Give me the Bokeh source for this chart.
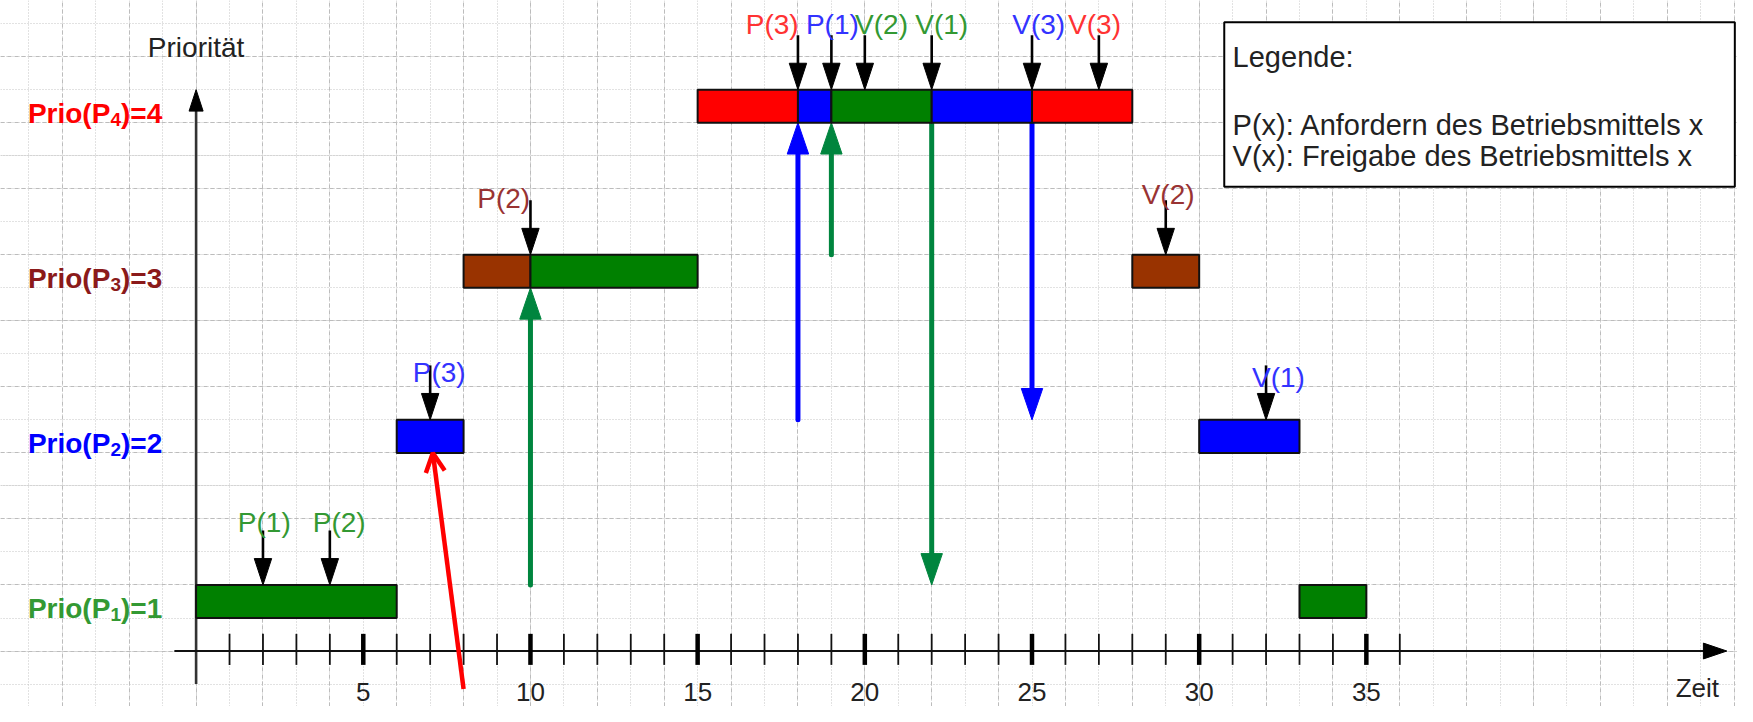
import numpy as np
from bokeh.plotting import figure
from bokeh.models import Range1d, Grid, SingleIntervalTicker, Arrow, OpenHead
from bokeh.core.properties import value
from bokeh.embed import file_html
from bokeh.resources import INLINE

# ---------------- data ----------------
prio_levels = [1, 2, 3, 4]
prio_label_colors = ["#339933", "#0000ff", "#8b1a1a", "#ff0000"]

bar_prio = [1, 1, 2, 2, 3, 3, 3, 4, 4, 4, 4, 4]
bar_start = [0, 33, 6, 30, 8, 10, 28, 15, 18, 19, 22, 25]
bar_end = [6, 35, 8, 33, 10, 15, 30, 18, 19, 22, 25, 28]
bar_colors = ["#008000", "#008000", "#0000ff", "#0000ff", "#993300", "#008000",
              "#993300", "#ff0000", "#0000ff", "#008000", "#0000ff", "#ff0000"]

event_time = [2, 4, 7, 10, 18, 19, 20, 22, 25, 27, 29, 32]
event_prio = [1, 1, 2, 3, 4, 4, 4, 4, 4, 4, 3, 2]
event_text = ["P(1)", "P(2)", "P(3)", "P(2)", "P(3)", "P(1)", "V(2)", "V(1)",
              "V(3)", "V(3)", "V(2)", "V(1)"]
event_color = ["#339933", "#339933", "#3333ff", "#993333", "#ff3333", "#3333ff",
               "#339933", "#339933", "#3333ff", "#ff3333", "#993333", "#3333ff"]

transfer_time = [10, 18, 19, 22, 25]
transfer_from = [1, 2, 3, 4, 4]
transfer_to = [3, 4, 4, 1, 2]
transfer_color = ["#00853e", "#0000ff", "#00853e", "#00853e", "#0000ff"]

preempt_x = [8.0, 7.08]
preempt_y = [-1.15, 6.0]

time_ticks = list(range(1, 37))
major_ticks = [5, 10, 15, 20, 25, 30, 35]
major_labels = ["5", "10", "15", "20", "25", "30", "35"]

legend_lines = ["Legende:", "P(x): Anfordern des Betriebsmittels x",
                "V(x): Freigabe des Betriebsmittels x"]

# ---------------- layout (positions / styles) ----------------
FONT = value("Liberation Sans")
event_label_dx = [0.04, 0.28, 0.27, -0.8, -0.77, 0.03, 0.5, 0.3, 0.2, -0.13, 0.07, 0.37]
event_label_dy = [1.89, 1.89, 1.44, 1.71, 1.96, 1.96, 1.96, 1.96, 1.96, 1.96, 1.81, 1.29]


def bar_bottom(k):
    return 5 * k - 4


W, H = 1737, 706
p = figure(width=W, height=H, x_range=Range1d(-5.85, 46.1), y_range=Range1d(-1.68, 19.70),
           output_backend="svg", toolbar_location=None, min_border=0,
           x_axis_location=None, y_axis_location=None)
p.outline_line_color = None
p.background_fill_color = "white"
p.border_fill_color = "white"

for dim in (0, 1):
    g = Grid(dimension=dim, ticker=SingleIntervalTicker(interval=2, num_minor_ticks=2),
             grid_line_color="#bcbcbc", grid_line_dash="4 3", grid_line_width=1,
             minor_grid_line_color="#c4c4c4", minor_grid_line_dash="1 2",
             minor_grid_line_width=1)
    p.add_layout(g)

# ---- axes ----
p.segment(x0=[0], y0=[-1.0], x1=[0], y1=[16.4], line_color="#333333", line_width=2.6)
p.patch(x=[-0.21, 0.21, 0.0], y=[16.35, 16.35, 17.0], fill_color="black", line_color="black")
p.segment(x0=[-0.65], y0=[0], x1=[45.1], y1=[0], line_color="#111111", line_width=2)
p.patch(x=[45.08, 45.08, 45.78], y=[-0.24, 0.24, 0.0], fill_color="black", line_color="black")

minor = [t for t in time_ticks if t not in major_ticks]
p.segment(x0=minor, y0=[-0.42] * len(minor), x1=minor, y1=[0.52] * len(minor),
          line_color="#111111", line_width=1.8)
p.segment(x0=major_ticks, y0=[-0.42] * len(major_ticks), x1=major_ticks,
          y1=[0.52] * len(major_ticks), line_color="black", line_width=4.5)
p.text(x=major_ticks, y=[-1.25] * len(major_ticks), text=major_labels, text_font=FONT,
       text_font_size="26px", text_color="#222222", text_align="center",
       text_baseline="alphabetic")
p.text(x=[44.9], y=[-1.12], text=["Zeit"], text_font=FONT, text_font_size="26px",
       text_color="#222222", text_align="center", text_baseline="alphabetic")
p.text(x=[0.0], y=[18.29], text=["Priorität"], text_font=FONT, text_font_size="28px",
       text_color="#222222", text_align="center", text_baseline="alphabetic")

# ---- transfer arrows (coloured) ----
HL, HW = 0.95, 0.32
for t, f, to, c in zip(transfer_time, transfer_from, transfer_to, transfer_color):
    if to > f:
        y0 = bar_bottom(f) + 1
        tip = bar_bottom(to)
        base = tip - HL
    else:
        y0 = bar_bottom(f)
        tip = bar_bottom(to) + 1
        base = tip + HL
    p.line(x=[t, t], y=[y0, base], line_color=c, line_width=5, line_cap="round")
    p.patch(x=[t - HW, t + HW, t], y=[base, base, tip], fill_color=c, line_color=c)

# ---- bars ----
p.quad(left=bar_start, right=bar_end,
       bottom=[bar_bottom(k) for k in bar_prio],
       top=[bar_bottom(k) + 1 for k in bar_prio],
       fill_color=bar_colors, line_color="#111111", line_width=2)

# ---- event arrows (black) ----
BL, BHL, BHW = 1.65, 0.8, 0.26
for t, k in zip(event_time, event_prio):
    top = bar_bottom(k) + 1
    p.line(x=[t, t], y=[top + BL, top + BHL - 0.05], line_color="black", line_width=2.6)
    p.patch(x=[t - BHW, t + BHW, t], y=[top + BHL, top + BHL, top],
            fill_color="black", line_color="black")

p.text(x=[t + dx for t, dx in zip(event_time, event_label_dx)],
       y=[bar_bottom(k) + 1 + dy for k, dy in zip(event_prio, event_label_dy)],
       text=event_text, text_color=event_color, text_font=FONT, text_font_size="28px",
       text_align="center", text_baseline="alphabetic")

# ---- preemption arrow (red) ----
p.add_layout(Arrow(x_start=preempt_x[0], y_start=preempt_y[0], x_end=preempt_x[1],
                   y_end=preempt_y[1], line_color="#ff0000", line_width=4.5,
                   end=OpenHead(size=19, line_color="#ff0000", line_width=4.5)))

# ---- priority labels ----
F = 28
main_w = 2.945 * F
sub_w = 0.556 * 0.68 * F
lab_x = [-5.03] * 4
lab_y = [bar_bottom(k) + 0.28 for k in prio_levels]
p.text(x=lab_x, y=lab_y, text=["Prio(P"] * 4, text_color=prio_label_colors, text_font=FONT,
       text_font_size=f"{F}px", text_font_style="bold", text_align="left",
       text_baseline="alphabetic")
p.text(x=lab_x, y=[y - 0.18 for y in lab_y], text=[str(k) for k in prio_levels],
       text_color=prio_label_colors, text_font=FONT, text_font_size=f"{round(0.68 * F)}px",
       text_font_style="bold", text_align="left", text_baseline="alphabetic",
       x_offset=main_w)
p.text(x=lab_x, y=lab_y, text=[f")={k}" for k in prio_levels], text_color=prio_label_colors,
       text_font=FONT, text_font_size=f"{F}px", text_font_style="bold", text_align="left",
       text_baseline="alphabetic", x_offset=main_w + sub_w)

# ---- legend box ----
p.quad(left=[30.75], right=[46.02], bottom=[14.06], top=[19.04], fill_color="white",
       line_color="black", line_width=2)
p.text(x=[31.0] * 3, y=[17.99, 15.92, 15.0], text=legend_lines, text_font=FONT,
       text_font_size="29px", text_color="#222222", text_align="left",
       text_baseline="alphabetic")

open("out.html", "w").write(file_html(p, INLINE))
